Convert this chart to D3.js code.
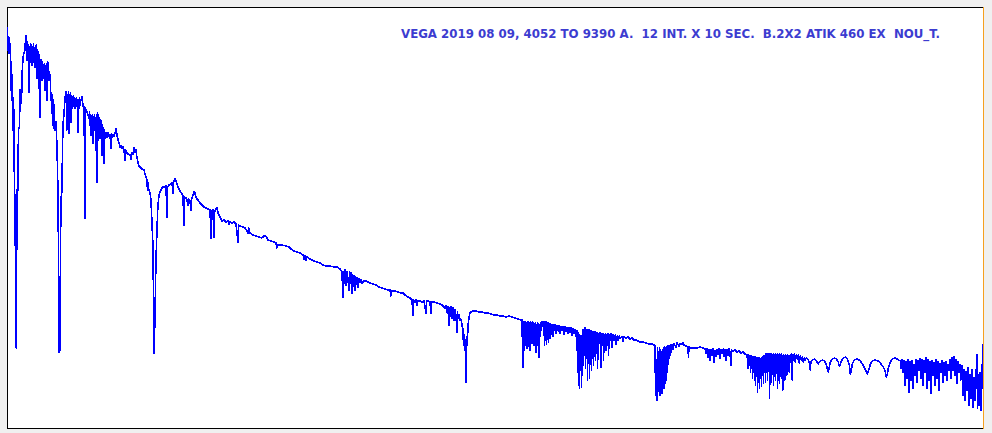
<!DOCTYPE html>
<html><head><meta charset="utf-8">
<script src="https://cdn.jsdelivr.net/npm/d3@7"></script>
<style>html,body{margin:0;padding:0;background:#f0f0f0;overflow:hidden}svg{display:block}</style>
</head><body>
<svg id="chart" width="992" height="433"></svg>
<script>
const titleText = "VEGA 2019 08 09, 4052 TO 9390 A.  12 INT. X 10 SEC.  B.2X2 ATIK 460 EX  NOU_T.";
const wavelengthRange = [4052, 9390];   // Angstrom
const fluxRange = [0, 4210];            // relative counts

// [wavelength (A), relative flux]
const specViolet = [[4052,4010],[4055,3780],[4057,3910],[4060,3750],[4063,3900],[4066,3760],[4068,3800],[4071,3380],[4074,3660],[4077,3280],[4079,3530],[4082,2980],[4085,3300],[4088,2960],[4090,2330],[4093,2330],[4096,1450],[4098,1580],[4100,800],[4102,1600],[4104,2380],[4109,2380],[4112,3000],[4118,3000],[4120,3380],[4126,3380],[4129,3250],[4131,3510],[4137,3710],[4142,3750],[4148,3780],[4151,3920],[4153,3830],[4156,3920],[4159,3680],[4162,3860],[4164,3730],[4167,3830],[4170,3360],[4173,3810],[4175,3660],[4178,3840],[4181,3700],[4184,3830],[4186,3630],[4189,3810],[4192,3730],[4195,3840],[4197,3660],[4200,3800],[4203,3610],[4206,3820],[4208,3720],[4211,3830],[4214,3500],[4216,3780],[4219,3700],[4222,3760],[4225,3400],[4227,3730],[4230,3110],[4233,3680],[4236,3530],[4238,3680],[4241,3480],[4244,3660],[4246,3580],[4249,3630],[4252,3500],[4255,3640],[4257,3380],[4260,3620],[4263,3530],[4266,3640],[4268,3280],[4271,3660],[4274,3560],[4276,3650],[4279,3480],[4285,3530],[4290,3280],[4296,3330],[4298,3030],[4301,3280],[4304,3000],[4306,3230],[4312,2980],[4317,3060],[4323,2810],[4328,2380],[4331,1780],[4334,760],[4337,960],[4339,780],[4342,1880],[4345,2210],[4347,2360],[4350,2360],[4353,2810],[4356,3050],[4361,3130],[4367,3310],[4372,3360]];

const specBlue = [[4375,3310],[4377,2980],[4380,3330],[4383,3280],[4386,3360],[4388,2950],[4391,3330],[4394,3230],[4397,3350],[4399,3060],[4402,3320],[4405,3200],[4408,3310],[4410,3220],[4413,3320],[4416,3240],[4419,3300],[4421,3200],[4424,3290],[4427,3220],[4430,3300],[4432,3240],[4435,3280],[4438,2960],[4440,3280],[4443,3200],[4446,3300],[4449,3230],[4454,3280],[4460,3310],[4465,3220],[4471,3210],[4476,2100],[4479,3200],[4482,3180],[4487,3160],[4493,3130],[4498,3100],[4501,3160],[4503,3030],[4506,3130],[4509,2930],[4512,3120],[4514,3000],[4517,3130],[4520,2850],[4523,3110],[4525,2980],[4528,3130],[4531,3030],[4534,3100],[4536,2780],[4539,3130],[4542,2460],[4545,3150],[4547,2880],[4550,3130],[4553,2980],[4556,3100],[4558,2900],[4561,3080],[4564,2980],[4567,3070],[4569,2730],[4572,3030],[4575,2930],[4577,3000],[4580,2650],[4583,2980],[4586,2900],[4591,2950],[4597,2910],[4602,2950],[4608,2920],[4613,2930],[4618,2800],[4621,2940],[4624,2910],[4629,2930],[4635,2920],[4640,2950],[4646,2990],[4651,2930],[4657,2880],[4662,2850],[4668,2810],[4673,2820],[4679,2800],[4684,2810],[4690,2780],[4695,2680],[4698,2780],[4701,2760],[4712,2740],[4722,2730],[4728,2690],[4731,2750],[4739,2740],[4744,2800],[4750,2760],[4755,2780],[4760,2710],[4766,2660],[4771,2620],[4777,2610],[4788,2590],[4799,2580],[4804,2540],[4810,2510],[4815,2480],[4818,2380],[4821,2450],[4823,2400],[4826,2380],[4832,2350],[4837,2280],[4843,2030],[4848,1830],[4851,1280],[4854,750],[4856,880],[4859,1110],[4862,1430],[4864,1650],[4870,1980],[4875,2230],[4881,2320],[4886,2360],[4892,2380],[4897,2400]];

const specGreen = [[4903,2410],[4914,2410],[4919,2420],[4925,2110],[4928,2410],[4936,2430],[4947,2440],[4952,2450],[4958,2350],[4961,2460],[4963,2470],[4969,2490],[4974,2470],[4980,2440],[4985,2410],[4996,2370],[5007,2340],[5012,2320],[5018,2030],[5021,2310],[5029,2300],[5034,2280],[5040,2230],[5042,2290],[5051,2270],[5056,2180],[5059,2280],[5067,2330],[5072,2360],[5078,2350],[5083,2310],[5089,2290],[5094,2280],[5105,2250],[5116,2230],[5127,2210],[5138,2200],[5149,2190],[5160,2180],[5166,1900],[5168,2170],[5176,2180],[5182,1910],[5185,2160],[5193,2190],[5198,2200],[5204,2150],[5215,2110],[5226,2070],[5237,2080],[5248,2060],[5259,2070],[5264,2040],[5270,2060],[5280,2050],[5291,2060],[5302,2040],[5313,1860],[5316,2030],[5324,2020],[5341,2010],[5352,2000],[5363,1970],[5368,1950],[5371,2000],[5379,1950],[5395,1930],[5412,1920],[5428,1910],[5444,1900],[5455,1920],[5466,1920],[5477,1880],[5493,1870],[5510,1860],[5521,1850],[5526,1800],[5532,1830],[5554,1830],[5576,1820],[5592,1810],[5603,1790],[5619,1770],[5636,1760],[5653,1750],[5669,1730],[5674,1690],[5680,1720],[5685,1680],[5691,1710],[5707,1690],[5729,1670],[5745,1660],[5762,1650],[5778,1630],[5795,1620],[5817,1620],[5839,1610],[5855,1610],[5871,1590],[5882,1560]];

const specRed = [[5888,1310],[5890,1560],[5893,1450],[5899,1580],[5904,1430],[5910,1560],[5915,1480],[5921,1380],[5923,1560],[5926,1450],[5932,1550],[5937,1350],[5940,1530],[5943,1420],[5948,1520],[5954,1380],[5956,1510],[5959,1440],[5965,1500],[5970,1410],[5976,1490],[5981,1460],[5987,1480],[5992,1450],[6003,1470],[6014,1470],[6025,1460],[6036,1450],[6052,1440],[6068,1430],[6085,1410],[6101,1400],[6118,1390],[6134,1380],[6145,1380],[6150,1320],[6156,1370],[6172,1370],[6189,1360],[6205,1350],[6216,1350],[6227,1330],[6243,1310],[6254,1300],[6265,1280],[6271,1130],[6274,1280],[6282,1260],[6287,1280],[6293,1230],[6298,1270],[6309,1270],[6320,1260],[6331,1270],[6342,1150],[6345,1270],[6353,1270],[6364,1260],[6369,1150],[6372,1260],[6386,1260],[6402,1250],[6419,1240],[6430,1230],[6441,1210],[6446,1200],[6452,1220],[6457,1160],[6462,1210],[6468,1030],[6471,1200],[6473,1120],[6479,1210],[6484,1100],[6490,1200],[6495,1080],[6501,1180],[6506,1130],[6512,960],[6514,1160],[6517,1100],[6523,1130],[6528,1080],[6534,1080],[6539,1030],[6545,980],[6547,830],[6550,930],[6556,780],[6559,880],[6561,460],[6564,780],[6567,910],[6569,880],[6572,1030],[6578,1110],[6583,1150],[6588,1160],[6599,1170],[6616,1170],[6632,1160],[6648,1160],[6665,1150],[6681,1150],[6698,1140],[6714,1130],[6730,1130],[6747,1120],[6763,1120],[6780,1110],[6796,1120],[6812,1110],[6829,1100],[6845,1090],[6862,1080],[6867,1080]];

const specFarRed = [[6873,610],[6875,1060],[6878,780],[6881,1060],[6884,830],[6886,1060],[6889,860],[6892,1050],[6895,800],[6897,1060],[6900,880],[6903,1060],[6906,820],[6908,1050],[6911,780],[6914,1060],[6917,900],[6919,1050],[6922,850],[6925,1060],[6928,930],[6930,1050],[6933,830],[6936,1040],[6939,880],[6941,1050],[6944,760],[6947,1030],[6950,900],[6952,1050],[6955,830],[6958,1040],[6961,710],[6963,1030],[6966,920],[6969,1050],[6972,980],[6974,1060],[6977,1020],[6983,1060],[6986,930],[6988,1060],[6991,830],[6994,1050],[6996,880],[6999,1060],[7002,840],[7005,1050],[7007,900],[7010,1050],[7013,860],[7016,1040],[7018,950],[7021,1040],[7024,900],[7026,1030],[7032,960],[7035,1030],[7037,920],[7040,1030],[7043,980],[7048,1030],[7054,950],[7059,1020],[7065,970],[7070,1020],[7075,950],[7081,1010],[7086,980],[7092,1010],[7097,940],[7103,1010],[7108,970],[7114,1000],[7119,950],[7125,1000],[7130,960],[7136,1000],[7141,930],[7146,990],[7152,950],[7157,980],[7163,920],[7168,970],[7171,680],[7174,950],[7176,430],[7179,930],[7182,400],[7185,880],[7187,580],[7190,920],[7193,410],[7196,830],[7198,530],[7201,980],[7204,630],[7207,970],[7209,730],[7212,1000],[7215,600],[7218,950],[7220,780],[7223,980],[7226,480],[7229,960],[7231,710],[7234,980],[7237,500],[7240,940],[7242,760],[7245,970],[7248,580],[7251,950],[7253,730],[7256,960],[7259,630],[7262,940],[7264,800],[7267,960],[7270,680],[7273,930],[7275,830],[7278,950],[7281,600],[7284,920],[7286,780],[7289,940],[7292,880],[7294,950]];

const specNearIR1 = [[7300,610],[7303,940],[7305,830],[7311,940],[7314,680],[7316,930],[7322,860],[7325,940],[7327,780],[7330,930],[7333,880],[7338,940],[7341,730],[7344,930],[7349,880],[7355,940],[7360,810],[7366,930],[7371,880],[7377,930],[7382,840],[7388,920],[7393,880],[7399,920],[7404,900],[7415,910],[7420,870],[7426,910],[7437,900],[7448,910],[7458,890],[7469,900],[7480,880],[7491,880],[7502,870],[7513,860],[7529,860],[7546,850],[7562,840],[7578,840],[7589,830],[7595,820],[7598,380],[7600,330],[7603,680],[7606,280],[7609,800],[7611,360],[7614,760],[7617,430],[7620,800],[7622,330],[7625,780],[7628,400],[7631,760],[7633,350],[7636,780],[7639,480],[7641,800],[7644,400],[7647,810],[7650,450],[7652,800],[7655,480],[7658,810],[7661,560],[7663,820],[7666,640],[7669,820],[7672,700],[7674,820],[7677,730],[7680,830],[7683,760],[7688,830],[7694,790],[7699,840],[7710,810],[7715,850],[7726,820],[7732,840],[7743,840],[7748,850],[7754,830],[7765,820],[7776,810],[7778,710],[7781,810],[7792,800],[7809,800],[7825,800],[7841,810],[7858,800],[7869,790]];

const specNearIR2 = [[7874,750],[7880,790],[7885,710],[7891,780],[7896,680],[7902,780],[7907,730],[7913,790],[7918,660],[7924,770],[7929,720],[7935,780],[7940,740],[7946,790],[7951,700],[7957,780],[7962,750],[7968,790],[7973,720],[7978,780],[7984,680],[7989,780],[7995,730],[8000,790],[8005,760],[8011,630],[8014,780],[8022,770],[8033,780],[8044,760],[8055,770],[8066,750],[8077,760],[8088,740],[8099,730],[8104,600],[8107,730],[8110,630],[8115,720],[8118,560],[8121,720],[8123,600],[8126,710],[8129,500],[8132,710],[8134,560],[8137,700],[8140,480],[8143,710],[8145,430],[8148,700],[8151,520],[8154,700],[8156,360],[8159,680],[8162,460],[8165,700],[8167,400],[8170,690],[8173,500],[8176,680],[8178,420],[8181,700],[8184,530],[8187,720],[8189,450],[8192,720],[8195,580],[8198,710],[8200,460],[8203,740],[8206,560],[8209,730],[8211,480],[8214,740],[8217,600],[8220,730],[8222,300],[8225,740],[8228,530],[8231,740],[8233,460],[8236,730],[8239,580],[8242,740],[8244,430],[8247,730],[8250,520],[8253,740],[8255,480],[8258,730],[8261,560],[8264,740],[8266,400],[8269,730],[8272,530],[8275,740],[8277,450],[8280,730],[8283,580],[8286,740],[8288,500],[8291,720],[8294,380],[8297,730],[8299,560],[8302,720],[8305,480],[8308,730],[8310,600],[8313,720],[8316,530],[8319,730],[8321,630],[8324,720],[8330,560],[8332,720],[8335,660],[8341,740],[8346,480],[8349,730],[8352,680],[8357,740],[8363,660],[8368,730],[8374,690],[8379,730],[8385,650],[8390,720],[8396,680],[8401,710],[8407,660],[8412,700],[8418,680],[8423,700],[8434,680],[8440,650],[8445,580],[8448,660],[8456,680],[8467,690],[8478,670],[8489,640],[8494,660],[8500,670],[8511,680],[8522,670],[8533,630],[8538,590],[8544,560],[8549,610],[8555,660],[8566,690],[8577,700],[8588,690],[8598,660],[8604,620],[8609,630],[8615,670],[8626,700],[8637,710],[8648,690],[8659,630],[8664,540],[8670,580],[8675,640],[8686,680],[8702,690],[8719,670],[8730,640],[8741,600],[8752,560],[8757,540],[8763,570],[8774,640],[8785,670],[8801,680],[8817,670],[8828,650],[8845,610],[8856,560],[8861,510],[8867,540],[8872,600],[8883,660],[8894,690],[8910,700],[8927,680],[8938,670]];

const specNearIR3 = [[8941,600],[8947,680],[8952,560],[8958,670],[8963,430],[8969,660],[8974,500],[8980,680],[8985,360],[8991,660],[8996,480],[9002,670],[9007,400],[9013,630],[9018,530],[9023,680],[9029,460],[9034,670],[9040,580],[9045,690],[9051,500],[9056,680],[9062,430],[9067,670],[9073,560],[9078,700],[9084,400],[9089,680],[9095,480],[9100,660],[9106,350],[9111,670],[9116,530],[9122,650],[9127,430],[9133,680],[9138,500],[9144,660],[9149,380],[9155,640],[9160,560],[9166,670],[9171,460],[9177,650],[9182,530],[9187,660],[9193,480],[9198,630],[9204,580],[9209,680],[9215,500],[9220,700],[9226,580],[9231,710],[9237,530],[9242,680],[9248,450],[9253,660],[9259,560],[9264,630],[9269,480],[9275,620],[9280,330],[9286,580],[9291,280],[9297,560],[9302,380],[9308,600],[9313,230],[9319,530],[9324,300],[9330,580],[9335,210],[9341,500],[9346,280],[9352,540],[9357,730],[9360,200],[9363,530],[9368,230],[9374,550],[9379,180],[9385,500],[9388,830],[9390,480]];

const spectrum = [].concat(specViolet, specBlue, specGreen, specRed, specFarRed, specNearIR1, specNearIR2, specNearIR3);

const svg = d3.select("#chart");
const frame = {left: 7.5, top: 7.5, right: 983.5, bottom: 428.5};

const x = d3.scaleLinear().domain(wavelengthRange).range([frame.left, frame.right - 0.5]);
const y = d3.scaleLinear().domain(fluxRange).range([frame.bottom - 0.5, frame.top - 0.5]);

svg.append("rect").attr("x", 0).attr("y", 0).attr("width", 992).attr("height", 433).attr("fill", "#f0f0f0");
svg.append("rect")
  .attr("x", frame.left).attr("y", frame.top)
  .attr("width", frame.right - frame.left).attr("height", frame.bottom - frame.top)
  .attr("fill", "#ffffff").attr("stroke", "#000000").attr("stroke-width", 1)
  .attr("shape-rendering", "crispEdges");

svg.append("path")
  .datum(spectrum)
  .attr("fill", "none")
  .attr("stroke", "#0000ff")
  .attr("stroke-width", 1.6)
  .attr("stroke-linejoin", "round")
  .attr("shape-rendering", "crispEdges")
  .attr("d", d3.line().x(d => x(d[0])).y(d => y(d[1])));

svg.append("line")
  .attr("x1", frame.right).attr("x2", frame.right)
  .attr("y1", frame.top - 0.5).attr("y2", frame.bottom + 0.5)
  .attr("stroke", "#f5a020").attr("stroke-width", 1)
  .attr("shape-rendering", "crispEdges");

svg.append("text")
  .attr("x", 401).attr("y", 38)
  .attr("fill", "#3c3cd0")
  .attr("font-family", "DejaVu Sans, Verdana, sans-serif")
  .attr("font-weight", "bold")
  .attr("font-size", 12.5)
  .attr("xml:space", "preserve")
  .style("white-space", "pre")
  .attr("textLength", 539)
  .attr("lengthAdjust", "spacingAndGlyphs")
  .text(titleText);
</script>
</body></html>
